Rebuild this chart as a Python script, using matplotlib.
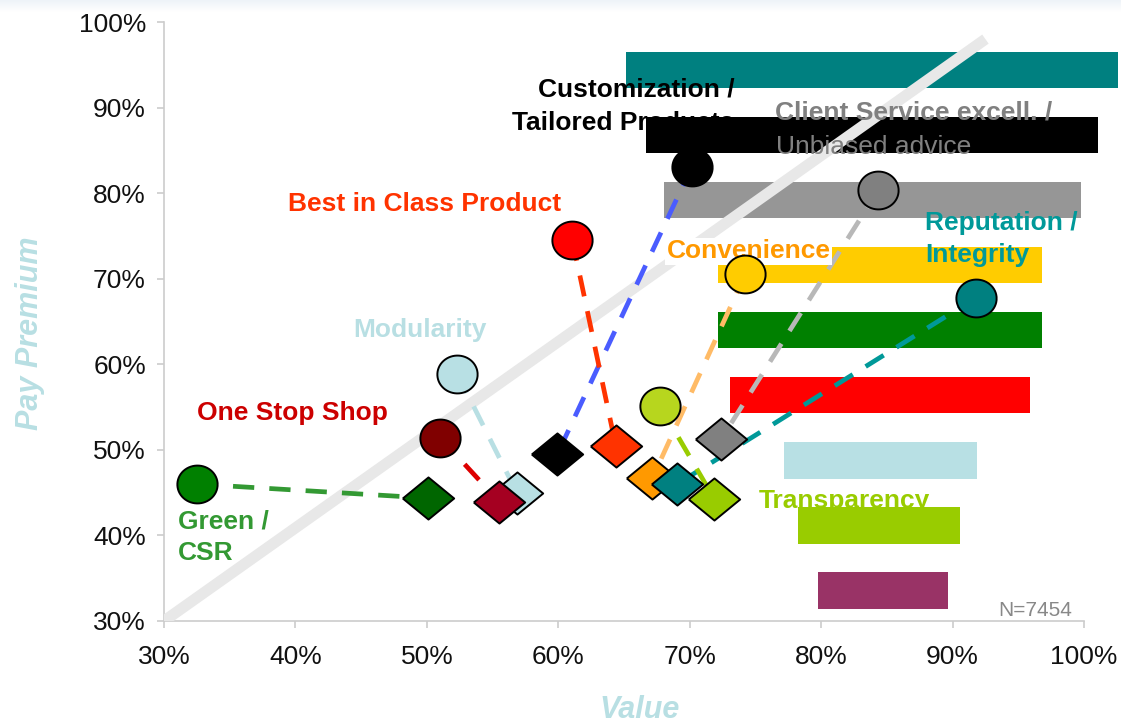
import numpy as np
import matplotlib
matplotlib.use('Agg')
from matplotlib import pyplot as plt

plt.rcParams['font.family'] = ['Liberation Sans', 'DejaVu Sans']

# attributes: circle = stated, diamond = derived
names = ['Green / CSR', 'Modularity', 'One Stop Shop', 'Customization / Tailored Products',
         'Best in Class Product', 'Client Service excell. / Unbiased advice',
         'Convenience', 'Reputation / Integrity', 'Transparency']
circle_x = [32.49, 52.32, 51.0, 70.16, 61.07, 84.36, 74.24, 91.8, 67.75]
circle_y = [46.0, 58.88, 51.44, 83.1, 74.53, 80.37, 70.56, 67.8, 55.14]
diamond_x = [50.11, 56.84, 55.49, 59.93, 64.37, 72.39, 67.16, 69.07, 71.86]
diamond_y = [44.36, 45.01, 43.96, 49.5, 50.5, 51.25, 46.7, 46.03, 44.28]
circle_col = ['#008000', '#b8e0e4', '#800000', '#000000', '#ff0000', '#808080',
              '#ffcc00', '#008080', '#b7d61e']
diamond_col = ['#006600', '#b8e0e4', '#a50021', '#000000', '#ff3300', '#808080',
               '#ff9900', '#008080', '#99cc00']
dash_col = ['#339933', '#b8dfe3', '#dd0000', '#4a5cff', '#ff3300', '#b8b8b8',
            '#ffbb66', '#009999', '#99cc00']

# background bars
bar_y = [94.4, 86.8, 79.2, 71.6, 64.0, 56.4, 48.8, 41.2, 33.6]
bar_left = [65.16, 66.68, 68.05, 72.16, 72.16, 73.07, 77.18, 78.25, 79.77]
bar_right = [102.59, 101.08, 99.79, 96.82, 96.82, 95.91, 91.87, 90.58, 89.67]
bar_col = ['#008080', '#000000', '#969696', '#ffcc00', '#008000', '#ff0000',
           '#b8e0e4', '#99cc00', '#993366']

diag_x = [30, 92.5]
diag_y = [30, 98]

ticks = [30, 40, 50, 60, 70, 80, 90, 100]
tick_labels = ['30%', '40%', '50%', '60%', '70%', '80%', '90%', '100%']

# label lines: text, x, baseline y, colour, weight, zorder, ha
labels = [
    ('Best in Class Product', 39.44, 77.92, '#ff3300', 'bold', 5, 'left'),
    ('Modularity', 44.41, 63.24, '#b8dfe3', 'bold', 5, 'left'),
    ('One Stop Shop', 32.49, 53.5, '#cc0000', 'bold', 5, 'left'),
    ('Green /', 31.07, 40.85, '#339933', 'bold', 5, 'left'),
    ('CSR', 31.07, 37.15, '#339933', 'bold', 5, 'left'),
    ('Customization /', 73.38, 91.27, '#000000', 'bold', 1, 'right'),
    ('Tailored Products', 73.38, 87.38, '#000000', 'bold', 1, 'right'),
    ('Client Service excell. /', 76.5, 88.55, '#808080', 'bold', 5, 'left'),
    ('Unbiased advice', 76.6, 84.58, '#808080', 'normal', 5, 'left'),
    ('Reputation /', 87.91, 75.7, '#009999', 'bold', 5, 'left'),
    ('Integrity', 87.91, 72.0, '#009999', 'bold', 5, 'left'),
    ('Transparency', 75.23, 43.19, '#99cc00', 'bold', 1, 'left'),
]

fig = plt.figure(figsize=(11.21, 7.24), dpi=100)

# faint band at the very top
gax = fig.add_axes([0, 1 - 12 / 724, 1, 12 / 724])
grad = np.linspace(0, 1, 50).reshape(-1, 1)
gax.imshow(grad, aspect='auto', cmap=matplotlib.colors.LinearSegmentedColormap.from_list(
    'g', ['#eef3f8', '#ffffff']), extent=[0, 1, 0, 1])
gax.axis('off')

ax = fig.add_axes([164 / 1121, 1 - 621 / 724, 920 / 1121, 599 / 724])

for i in range(len(bar_y)):
    # top bar sits under the Customization label, the rest above it
    z = 0.5 if i == 0 else 2
    ax.barh(bar_y[i], bar_right[i] - bar_left[i], left=bar_left[i], height=4.3,
            color=bar_col[i], zorder=z, clip_on=False)

ax.plot(diag_x, diag_y, color='#e8e8e8', lw=8, solid_capstyle='butt', zorder=3)

t = np.linspace(0, 2 * np.pi, 60)
ellipse = list(zip(np.cos(t), 0.94 * np.sin(t)))
diamond = [(-1, 0), (0, 0.82), (1, 0), (0, -0.82), (-1, 0)]

for i in range(len(names)):
    ax.plot([circle_x[i], diamond_x[i]], [circle_y[i], diamond_y[i]], color=dash_col[i],
            lw=3.4, dashes=(4.5, 3.2), zorder=4, solid_capstyle='butt', dash_capstyle='butt')
for i in range(len(names)):
    ax.plot(diamond_x[i], diamond_y[i], marker=diamond, ms=37, mfc=diamond_col[i],
            mec='black', mew=1.4, ls='none', zorder=6 + i * 0.01)
for i in range(len(names)):
    ax.plot(circle_x[i], circle_y[i], marker=ellipse, ms=29, mfc=circle_col[i],
            mec='black', mew=1.4, ls='none', zorder=7)

for txt, x, y, c, w, z, ha in labels:
    ax.text(x, y, txt, color=c, fontsize=19, fontweight=w, ha=ha, va='baseline',
            zorder=z, clip_on=False)
ax.text(68.24, 72.39, 'Convenience', color='#ff9900', fontsize=19, fontweight='bold',
        ha='left', va='baseline', zorder=5,
        bbox=dict(boxstyle='square,pad=0.05', fc='white', ec='none'))
ax.text(93.47, 30.6, 'N=7454', color='#888888', fontsize=15, ha='left', va='baseline', zorder=5)

ax.set_xlim(30, 100)
ax.set_ylim(30, 100)
ax.set_xticks(ticks)
ax.set_xticklabels(tick_labels)
ax.set_yticks(ticks)
ax.set_yticklabels(tick_labels)
for s in ['top', 'right']:
    ax.spines[s].set_visible(False)
for s in ['left', 'bottom']:
    ax.spines[s].set_color('#cccccc')
    ax.spines[s].set_linewidth(1.2)
ax.tick_params(axis='both', colors='#cccccc', length=5, width=1.2, labelsize=19,
               labelcolor='#111111')
ax.tick_params(axis='y', pad=8)
ax.tick_params(axis='x', pad=12)

fig.text(30 / 1121, 1 - 333 / 724, 'Pay Premium', rotation=90, color='#b8dfe3',
         fontsize=22, fontweight='bold', fontstyle='italic', ha='center', va='center')
fig.text(640 / 1121, 1 - 710 / 724, 'Value', color='#b8dfe3',
         fontsize=22, fontweight='bold', fontstyle='italic', ha='center', va='center')

fig.savefig('out.png', dpi=100)
